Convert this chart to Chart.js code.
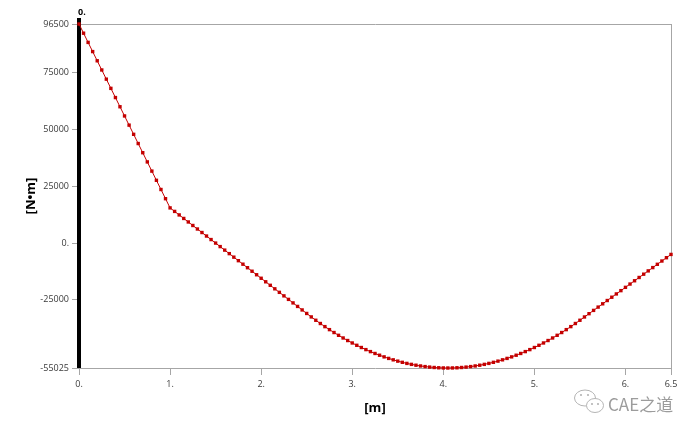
<!DOCTYPE html>
<html>
<head>
<meta charset="utf-8">
<script src="https://cdn.jsdelivr.net/npm/chart.js@4/dist/chart.umd.min.js"></script>
<style>
html,body{margin:0;padding:0;background:#fff;overflow:hidden}
canvas{display:block}
</style>
</head>
<body>
<canvas id="c" width="695" height="433" style="width:695px;height:433px"></canvas>
<script>
// ---- data ----
const positions = [
  0, 0.05, 0.1, 0.15, 0.2, 0.25, 0.3, 0.35, 0.4, 0.45,
  0.5, 0.55, 0.6, 0.65, 0.7, 0.75, 0.8, 0.85, 0.9, 0.95,
  1, 1.05, 1.1, 1.15, 1.2, 1.25, 1.3, 1.35, 1.4, 1.45,
  1.5, 1.55, 1.6, 1.65, 1.7, 1.75, 1.8, 1.85, 1.9, 1.95,
  2, 2.05, 2.1, 2.15, 2.2, 2.25, 2.3, 2.35, 2.4, 2.45,
  2.5, 2.55, 2.6, 2.65, 2.7, 2.75, 2.8, 2.85, 2.9, 2.95,
  3, 3.05, 3.1, 3.15, 3.2, 3.25, 3.3, 3.35, 3.4, 3.45,
  3.5, 3.55, 3.6, 3.65, 3.7, 3.75, 3.8, 3.85, 3.9, 3.95,
  4, 4.05, 4.1, 4.15, 4.2, 4.25, 4.3, 4.35, 4.4, 4.45,
  4.5, 4.55, 4.6, 4.65, 4.7, 4.75, 4.8, 4.85, 4.9, 4.95,
  5, 5.05, 5.1, 5.15, 5.2, 5.25, 5.3, 5.35, 5.4, 5.45,
  5.5, 5.55, 5.6, 5.65, 5.7, 5.75, 5.8, 5.85, 5.9, 5.95,
  6, 6.05, 6.1, 6.15, 6.2, 6.25, 6.3, 6.35, 6.4, 6.45,
  6.5
];
const bendingMoment = [
  96500, 92450, 88400, 84350, 80300, 76250, 72200, 68150, 64100, 60050,
  56000, 51950, 47900, 43850, 39800, 35750, 31700, 27650, 23600, 19550,
  15500, 13950, 12400, 10850, 9300, 7750, 6200, 4650, 3100, 1550,
  0, -1550, -3100, -4650, -6200, -7750, -9300, -10850, -12400, -13950,
  -15500, -17050, -18600, -20150, -21700, -23250, -24800, -26350, -27900, -29450,
  -31000, -32525, -34000, -35425, -36800, -38125, -39400, -40625, -41800, -42925,
  -44000, -45025, -46000, -46925, -47800, -48625, -49400, -50125, -50800, -51425,
  -52000, -52525, -53000, -53425, -53800, -54125, -54400, -54625, -54800, -54925,
  -55000, -55025, -55000, -54925, -54800, -54625, -54400, -54125, -53800, -53425,
  -53000, -52525, -52000, -51425, -50800, -50125, -49400, -48625, -47800, -46925,
  -46000, -45025, -44000, -42925, -41800, -40625, -39400, -38125, -36800, -35425,
  -34000, -32550, -31100, -29650, -28200, -26750, -25300, -23850, -22400, -20950,
  -19500, -18050, -16600, -15150, -13700, -12250, -10800, -9350, -7900, -6450,
  -5000
];
const xTickValues = [0, 1, 2, 3, 4, 5, 6, 6.5];
const xTickLabels = ["0.", "1.", "2.", "3.", "4.", "5.", "6.", "6.5"];
const yTickValues = [-55025, -25000, 0, 25000, 50000, 75000, 96500];
const yTickLabels = ["-55025", "-25000", "0.", "25000", "50000", "75000", "96500"];
const xAxisTitle = "[m]";
const yAxisTitle = "[N\u2022m]";
const cursorValue = 0;
const cursorLabel = "0.";
const watermarkText = "CAE之道";

// ---- styling ----
const RED = '#c40000';
const AXIS_GRAY = '#a6a6a6';
const TICK_TEXT = '#3a3a3a';
const TICK_FONT = {family: '"Open Sans", "Noto Sans", sans-serif', size: 9};
const TITLE_FONT = {family: '"Open Sans", "Noto Sans", sans-serif', size: 13, weight: 'bold'};

const points = positions.map((x, i) => ({x: x, y: bendingMoment[i]}));

const overlayPlugin = {
  id: 'overlay',
  beforeDatasetsDraw(chart) {
    const {ctx, scales: {x, y}} = chart;
    const px = x.getPixelForValue(cursorValue);
    const bottom = y.getPixelForValue(yTickValues[0]);
    ctx.save();
    ctx.fillStyle = '#000';
    ctx.fillRect(px - 2, 18, 4, bottom - 18);
    ctx.font = 'bold 9px "Open Sans", sans-serif';
    ctx.textAlign = 'left';
    ctx.textBaseline = 'alphabetic';
    ctx.fillText(cursorLabel, px - 1, 15);
    ctx.restore();
  },
  afterDraw(chart) {
    const ctx = chart.ctx;
    ctx.save();
    // WeChat-like icon (decoration)
    ctx.strokeStyle = '#b4b4b4';
    ctx.lineWidth = 1;
    ctx.beginPath();
    ctx.ellipse(585, 398, 10.5, 8, 0, 0, Math.PI * 2);
    ctx.stroke();
    ctx.fillStyle = '#fff';
    ctx.beginPath();
    ctx.ellipse(595, 405.5, 8.5, 7, 0, 0, Math.PI * 2);
    ctx.fill();
    ctx.stroke();
    ctx.fillStyle = '#b4b4b4';
    [[581, 395], [588, 395], [592, 404], [598, 404]].forEach(p => {
      ctx.beginPath(); ctx.arc(p[0], p[1], 1.1, 0, Math.PI * 2); ctx.fill();
    });
    ctx.fillStyle = '#9c9c9c';
    ctx.font = '17px "Noto Sans CJK SC", sans-serif';
    ctx.textAlign = 'left';
    ctx.textBaseline = 'alphabetic';
    ctx.fillText(watermarkText, 608, 411);
    ctx.restore();
  }
};

new Chart(document.getElementById('c'), {
  type: 'line',
  data: {
    datasets: [{
      data: points,
      borderColor: RED,
      backgroundColor: RED,
      borderWidth: 1,
      pointStyle: 'rect',
      pointRadius: 2.4,
      pointBorderWidth: 0,
      pointBackgroundColor: RED,
      tension: 0,
      fill: false,
      clip: false
    }]
  },
  options: {
    responsive: false,
    animation: false,
    devicePixelRatio: 1,
    layout: {padding: {top: 24, right: 24, left: 0, bottom: 0}},
    plugins: {legend: {display: false}, tooltip: {enabled: false}, title: {display: false}},
    scales: {
      x: {
        type: 'linear',
        min: 0,
        max: 6.5,
        afterBuildTicks: s => { s.ticks = xTickValues.map(v => ({value: v})); },
        afterFit: s => { s.height = 65; },
        ticks: {
          autoSkip: false, maxRotation: 0, padding: 4,
          color: TICK_TEXT, font: TICK_FONT,
          callback: (v, i) => xTickLabels[i]
        },
        grid: {
          color: c => (c.tick && c.tick.value === xTickValues[xTickValues.length - 1]) ? AXIS_GRAY : 'rgba(0,0,0,0)',
          tickColor: AXIS_GRAY,
          tickLength: 7,
          lineWidth: 1
        },
        border: {color: AXIS_GRAY, width: 1},
        title: {display: true, text: xAxisTitle, color: '#000', font: TITLE_FONT, padding: {top: 0, bottom: 17}}
      },
      y: {
        type: 'linear',
        min: yTickValues[0],
        max: yTickValues[yTickValues.length - 1],
        afterBuildTicks: s => { s.ticks = yTickValues.map(v => ({value: v})); },
        afterFit: s => { s.width = 79; },
        ticks: {
          autoSkip: false, padding: 3,
          color: TICK_TEXT, font: TICK_FONT,
          callback: (v, i) => yTickLabels[i]
        },
        grid: {
          color: c => (c.tick && c.tick.value === yTickValues[yTickValues.length - 1]) ? AXIS_GRAY : 'rgba(0,0,0,0)',
          tickColor: AXIS_GRAY,
          tickLength: 7,
          lineWidth: 1
        },
        border: {color: AXIS_GRAY, width: 1},
        title: {display: true, text: yAxisTitle, color: '#000', font: TITLE_FONT, padding: {top: 23, bottom: 0}}
      }
    }
  },
  plugins: [overlayPlugin]
});
</script>
</body>
</html>
